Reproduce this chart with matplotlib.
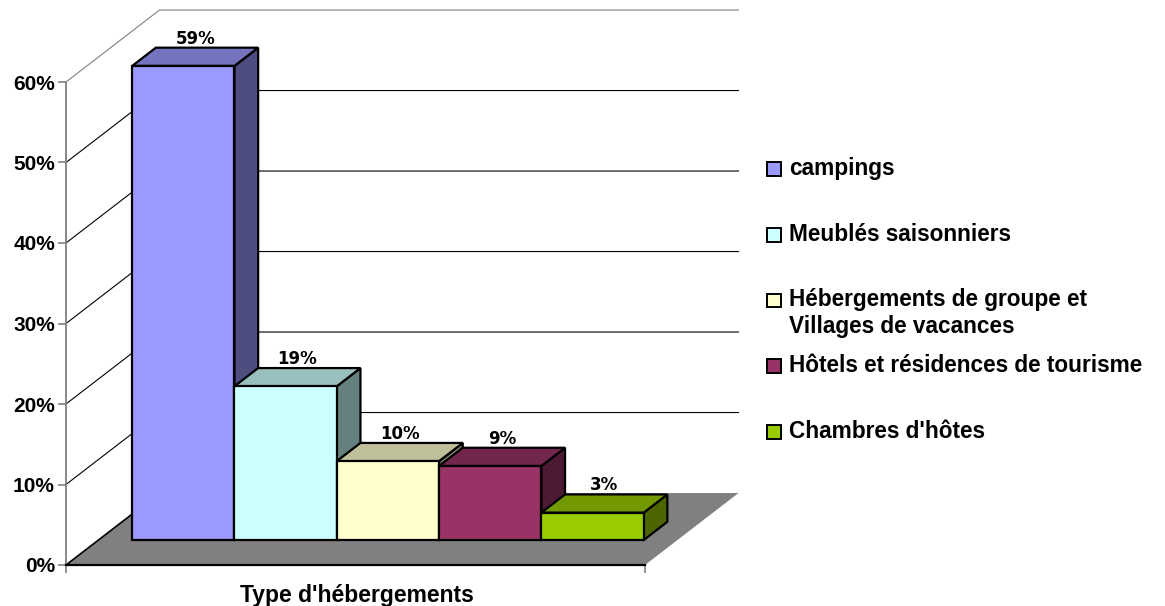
# -*- coding: utf-8 -*-
### Import Libraries
import matplotlib.pyplot as plt
import matplotlib.colors as mcolors
from matplotlib.patches import Polygon, Rectangle
import numpy as np

plt.rcParams["font.family"] = ["Liberation Sans", "DejaVu Sans"]

### Data
categories = [
    "campings",
    "Meublés saisonniers",
    "Hébergements de groupe et\nVillages de vacances",
    "Hôtels et résidences de tourisme",
    "Chambres d'hôtes",
]
values = [58.9, 19.1, 9.8, 9.2, 3.4]  # percent
colors = ["#9999FF", "#CCFFFF", "#FFFFCC", "#993366", "#99CC00"]
yticks = [0, 10, 20, 30, 40, 50, 60]
xlabel = "Type d'hébergements"

### 3D-ish geometry (in data units)
gap = 0.33           # free floor on each side of the bars
W = len(values) + 2 * gap
DX, DY = 0.914, 8.94  # full depth of the floor / walls
F1, F2 = 0.347, 0.60  # front and back of bars as depth fraction


def shade(c, k):
    r = np.array(mcolors.to_rgb(c)) * k
    return tuple(r)


fig = plt.figure(figsize=(11.65, 6.06), dpi=100)
ax = fig.add_axes([66 / 1165, 41 / 606, 579 / 1165, 483 / 606])
ax.set_xlim(0, W)
ax.set_ylim(0, 60)
ax.patch.set_visible(False)

# walls gridlines
for v in yticks[1:]:
    col = "#808080" if v == yticks[-1] else "black"
    ax.plot([0, DX, W + DX], [v, v + DY, v + DY], color=col, lw=0.8,
            zorder=1, clip_on=False)

# floor
floor = Polygon([(0, 0), (W, 0), (W + DX, DY), (DX, DY)], closed=True,
                facecolor="#808080", edgecolor="none", zorder=2, clip_on=False)
ax.add_patch(floor)
ax.plot([0, DX], [0, DY], color="black", lw=1.2, zorder=2.5, clip_on=False)

# bars, drawn left to right so the next one hides the previous side
for i, (v, c) in enumerate(zip(values, colors)):
    x0 = gap + i
    fx, fy = F1 * DX, F1 * DY
    bx, by = F2 * DX, F2 * DY
    z = 3 + i
    side = Polygon([(x0 + 1 + fx, fy), (x0 + 1 + fx, fy + v),
                    (x0 + 1 + bx, by + v), (x0 + 1 + bx, by)],
                   facecolor=shade(c, 0.5), edgecolor="black", lw=1.6,
                   zorder=z, clip_on=False, joinstyle="miter")
    top = Polygon([(x0 + fx, fy + v), (x0 + 1 + fx, fy + v),
                   (x0 + 1 + bx, by + v), (x0 + bx, by + v)],
                  facecolor=shade(c, 0.75), edgecolor="black", lw=1.6,
                  zorder=z, clip_on=False, joinstyle="miter")
    front = Rectangle((x0 + fx, fy), 1, v, facecolor=c, edgecolor="black",
                      lw=1.6, zorder=z, clip_on=False, joinstyle="miter")
    for p in (side, top, front):
        ax.add_patch(p)
    ax.annotate("%.0f%%" % v, (x0 + 0.5 + (fx + bx) / 2, by + v),
                xytext=(0, 0), textcoords="offset points",
                ha="center", va="bottom", fontsize=12, fontweight="bold",
                family="DejaVu Sans", zorder=20, annotation_clip=False)

# axes
for s in ("top", "right"):
    ax.spines[s].set_visible(False)
ax.spines["left"].set_color("#808080")
ax.spines["left"].set_linewidth(1.3)
ax.spines["bottom"].set_color("black")
ax.spines["bottom"].set_linewidth(1.6)
ax.spines["bottom"].set_zorder(2.6)
ax.set_yticks(yticks)
ax.set_yticklabels(["%d%%" % t for t in yticks], fontsize=15,
                   fontweight="bold")
ax.tick_params(axis="y", length=6, width=1.2, color="#808080", pad=2)
ax.set_xticks([0, W])
ax.set_xticklabels([])
ax.tick_params(axis="x", length=6, width=1.2, color="#808080")
ax.set_xlabel(xlabel, fontsize=16.5, fontweight="bold")
ax.xaxis.set_label_coords((357 - 66) / 579, -0.04)

# legend
for k, (lab, c) in enumerate(zip(categories, colors)):
    yc = 1 - (169 + k * 65.75) / 606
    fig.patches.append(Rectangle((767 / 1165, yc - 7 / 606), 14 / 1165, 14 / 606,
                                 transform=fig.transFigure, facecolor=c,
                                 edgecolor="black", lw=1.4))
    fig.text(789 / 1165, yc + 12 / 606, lab, ha="left", va="top",
             fontsize=16.3, fontweight="bold", linespacing=1.2)

fig.savefig("out.png", dpi=100)
